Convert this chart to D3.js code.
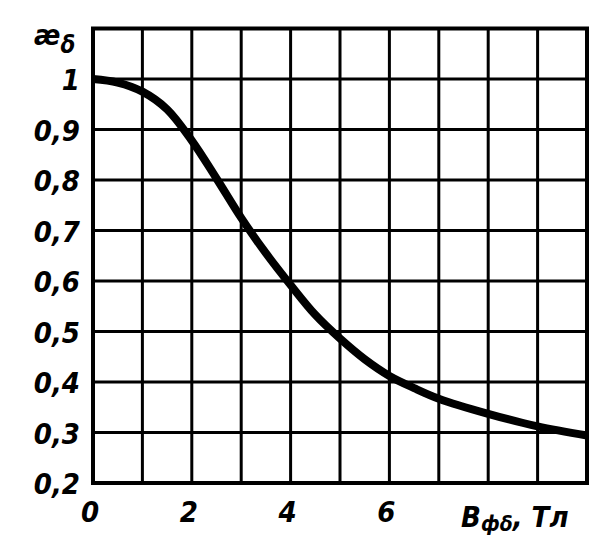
<!DOCTYPE html>
<html><head><meta charset="utf-8">
<script src="https://cdn.jsdelivr.net/npm/d3@7"></script>
<style>html,body{margin:0;padding:0;background:#fff;}</style>
</head><body>
<svg id="c" width="609" height="546"></svg>
<script>
const xValues = [0, 0.5, 1, 1.5, 2, 2.5, 3, 3.5, 4, 4.5, 5, 5.5, 6, 6.5, 7, 8, 9, 10];
const yValues = [1.0, 0.993, 0.975, 0.94, 0.878, 0.803, 0.725, 0.655, 0.592, 0.533, 0.486, 0.445, 0.412, 0.388, 0.367, 0.337, 0.312, 0.294];
const xTickLabels = ["0", "2", "4", "6"];
const xTickValues = [0, 2, 4, 6];
const yTickValues = [1.0, 0.9, 0.8, 0.7, 0.6, 0.5, 0.4, 0.3, 0.2];
const yTickLabels = ["1", "0,9", "0,8", "0,7", "0,6", "0,5", "0,4", "0,3", "0,2"];
const xGrid = [1,2,3,4,5,6,7,8,9];
const yGrid = [0.3,0.4,0.5,0.6,0.7,0.8,0.9,1.0];

const svg = d3.select("#c");
const x = d3.scaleLinear().domain([0, 10]).range([93, 587]);
const y = d3.scaleLinear().domain([0.2, 1.1]).range([483, 28.5]);
const font = "'Liberation Sans Narrow', 'DejaVu Sans Condensed', sans-serif";

const g = svg.append("g");
g.selectAll("line.vx").data(xGrid).join("line")
  .attr("x1", d => x(d)).attr("x2", d => x(d)).attr("y1", y(1.1)).attr("y2", y(0.2))
  .attr("stroke", "#000").attr("stroke-width", 3);
g.selectAll("line.hy").data(yGrid).join("line")
  .attr("x1", x(0)).attr("x2", x(10)).attr("y1", d => y(d)).attr("y2", d => y(d))
  .attr("stroke", "#000").attr("stroke-width", 3);
g.append("rect").attr("x", x(0)).attr("y", y(1.1)).attr("width", x(10)-x(0)).attr("height", y(0.2)-y(1.1))
  .attr("fill", "none").attr("stroke", "#000").attr("stroke-width", 4);

const line = d3.line().x((d,i) => x(xValues[i])).y(d => y(d)).curve(d3.curveCatmullRom.alpha(0.5));
g.append("path").datum(yValues).attr("d", line)
  .attr("fill", "none").attr("stroke", "#000").attr("stroke-width", 8).attr("stroke-linecap", "butt");

const txt = (sel) => sel.attr("font-family", font).attr("font-weight", "bold").attr("font-style", "italic").attr("fill", "#000");

g.selectAll("text.yl").data(yTickValues).join("text")
  .attr("x", 80).attr("y", (d) => y(d) + 11).attr("text-anchor", "end").attr("font-size", 29)
  .text((d,i) => yTickLabels[i]).call(txt);
g.selectAll("text.xl").data(xTickValues).join("text")
  .attr("x", d => x(d) - 3).attr("y", 522).attr("text-anchor", "middle").attr("font-size", 29)
  .text((d,i) => xTickLabels[i]).call(txt);

const xl = g.append("text").attr("x", 461).attr("y", 527).attr("font-size", 29).call(txt);
xl.append("tspan").text("B");
xl.append("tspan").attr("font-size", 21).attr("dy", 4).text("фδ");
xl.append("tspan").attr("dy", -4).attr("font-size", 29).text(", Тл");

const yl = g.append("text").attr("x", 34).attr("y", 45).attr("font-size", 28).call(txt);
yl.append("tspan").text("æ");
yl.append("tspan").attr("font-size", 24).attr("dy", 8).text("δ");
</script>
</body></html>
